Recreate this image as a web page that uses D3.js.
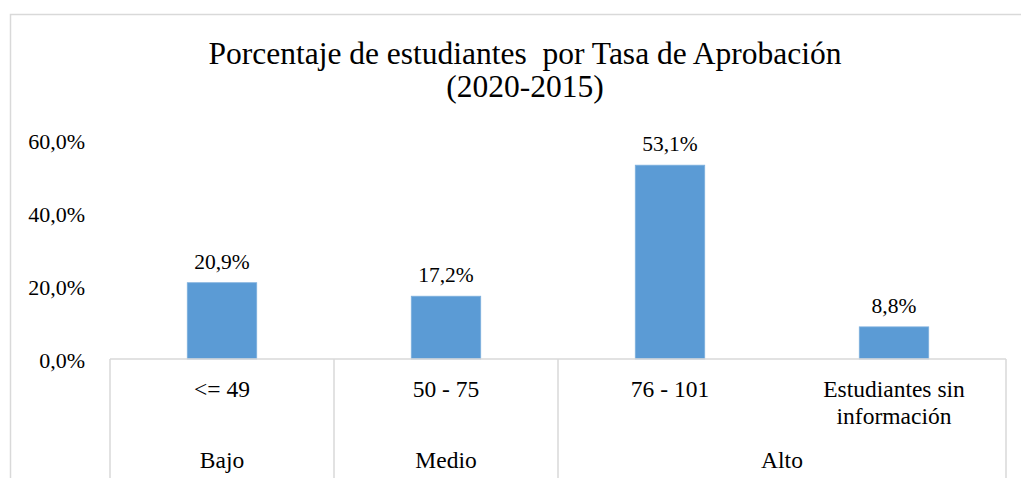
<!DOCTYPE html>
<html>
<head>
<meta charset="utf-8">
<script src="https://cdn.jsdelivr.net/npm/d3@7"></script>
<style>
  html, body { margin: 0; padding: 0; background: #fff; }
  svg { display: block; }
</style>
</head>
<body>
<div id="chart"></div>
<script>
// chart data
const categories = ['<= 49', '50 - 75', '76 - 101', 'Estudiantes sin información'];
const values = [20.9, 17.2, 53.1, 8.8];
const groups = ['Bajo', 'Medio', 'Alto'];
const groupSpans = [1, 1, 2];
const yTicks = [0, 20, 40, 60];
const titleLines = ['Porcentaje de estudiantes  por Tasa de Aprobación', '(2020-2015)'];

const width = 1021;
const height = 478;
const margin = { top: 140, right: 15, bottom: 119, left: 110 };
const serif = '"Liberation Serif", "Times New Roman", monospace';
const fmt = d => d.toFixed(1).replace('.', ',') + '%';

const svg = d3.select('#chart')
  .append('svg')
  .attr('width', width)
  .attr('height', height);

// outer chart border
svg.append('rect')
  .attr('x', 10.5)
  .attr('y', 14.5)
  .attr('width', 1100)
  .attr('height', 600)
  .attr('fill', 'none')
  .attr('stroke', '#d9d9d9')
  .attr('stroke-width', 1.5);

// title
svg.append('text')
  .attr('text-anchor', 'middle')
  .style('font-family', serif)
  .style('font-size', '31.5px')
  .attr('fill', '#000')
  .style('white-space', 'pre')
  .selectAll('tspan')
  .data(titleLines)
  .enter()
  .append('tspan')
  .attr('x', 525)
  .attr('y', (d, i) => 64 + i * 33)
  .text(d => d);

const x = d3.scaleBand()
  .domain(categories)
  .range([margin.left, width - margin.right])
  .paddingInner(0.69)
  .paddingOuter(0.345);

const y = d3.scaleLinear()
  .domain([0, 60])
  .range([height - margin.bottom, margin.top]);

// y axis labels, no line
const yAxis = svg.append('g')
  .attr('transform', `translate(${margin.left},0)`)
  .call(d3.axisLeft(y).tickValues(yTicks).tickSize(0).tickPadding(25).tickFormat(fmt));
yAxis.select('.domain').remove();
yAxis.selectAll('text')
  .style('font-family', serif)
  .style('font-size', '22px')
  .attr('fill', '#000')
  .attr('dy', '0.4em');

// bars
svg.append('g')
  .selectAll('rect')
  .data(values)
  .enter()
  .append('rect')
  .attr('x', (d, i) => x(categories[i]))
  .attr('y', d => y(d))
  .attr('width', x.bandwidth())
  .attr('height', d => y(0) - y(d))
  .attr('fill', '#5b9bd5')
  .attr('stroke', '#7eb0de')
  .attr('stroke-width', 0.8);

// value labels
svg.append('g')
  .selectAll('text')
  .data(values)
  .enter()
  .append('text')
  .attr('x', (d, i) => x(categories[i]) + x.bandwidth() / 2)
  .attr('y', d => y(d) - 14)
  .attr('text-anchor', 'middle')
  .style('font-family', serif)
  .style('font-size', '21.5px')
  .attr('fill', '#000')
  .text(fmt);

// multi-level category axis
const step = x.step();
const x0 = margin.left;
const x1 = width - margin.right;
const axisY = y(0);
const axisG = svg.append('g')
  .attr('stroke', '#d9d9d9')
  .attr('stroke-width', 1.5);

axisG.append('line')
  .attr('x1', x0).attr('x2', x1)
  .attr('y1', axisY).attr('y2', axisY);

// group boundaries
let acc = 0;
const bounds = [0];
groupSpans.forEach(s => { acc += s; bounds.push(acc); });
axisG.selectAll('line.sep')
  .data(bounds)
  .enter()
  .append('line')
  .attr('class', 'sep')
  .attr('x1', d => x0 + d * step)
  .attr('x2', d => x0 + d * step)
  .attr('y1', axisY)
  .attr('y2', height);

// inner category labels (wrapped)
const catText = svg.append('g')
  .attr('fill', '#000')
  .attr('text-anchor', 'middle')
  .selectAll('text')
  .data(categories)
  .enter()
  .append('text')
  .style('font-family', serif)
  .style('font-size', '23.5px');
catText.each(function (d) {
  const lines = d === 'Estudiantes sin información' ? ['Estudiantes sin', 'información'] : [d];
  const cx = x(d) + x.bandwidth() / 2;
  d3.select(this).selectAll('tspan')
    .data(lines)
    .enter()
    .append('tspan')
    .attr('x', cx)
    .attr('y', (l, i) => 397 + i * 27)
    .text(l => l);
});

// group labels
svg.append('g')
  .attr('fill', '#000')
  .attr('text-anchor', 'middle')
  .selectAll('text')
  .data(groups)
  .enter()
  .append('text')
  .style('font-family', serif)
  .style('font-size', '23.5px')
  .attr('x', (d, i) => x0 + (bounds[i] + bounds[i + 1]) / 2 * step)
  .attr('y', 468)
  .text(d => d);
</script>
</body>
</html>
